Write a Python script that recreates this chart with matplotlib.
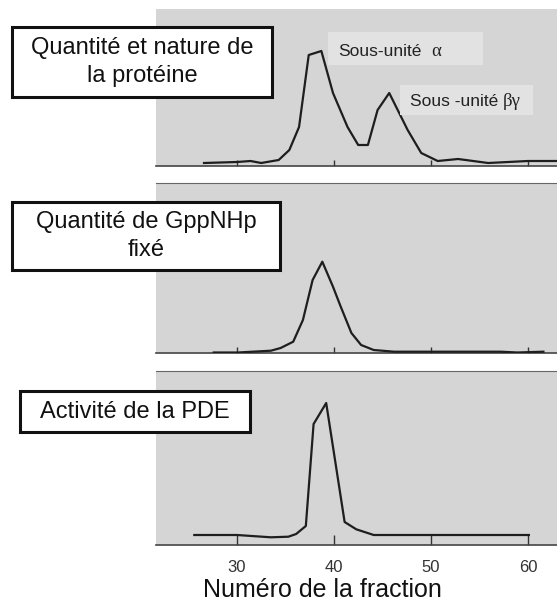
import matplotlib.pyplot as plt
from matplotlib.patches import Rectangle

plt.rcParams['font.family'] = ['Liberation Sans', 'DejaVu Sans']

# fraction numbers and signal heights (arbitrary units)
frac_prot = [26.6, 30, 31.4, 32.5, 34.3, 35.4, 36.4, 37.4, 38.7, 39.9, 41.4, 42.5,
             43.5, 44.5, 45.7, 47.6, 49, 50.7, 52.8, 55.9, 60, 62.9]
prot = [3, 4, 5, 3, 6, 16, 39, 111, 115, 73, 39, 21,
        21, 56, 73, 36, 13, 5, 7, 3, 5, 5]

frac_gpp = [27.6, 30.1, 33.5, 34.5, 35.8, 36.8, 37.8, 38.8, 39.9, 40.7, 41.8, 42.8,
            44.1, 46.2, 50.3, 57.2, 58.9, 61.6]
gpp = [0.5, 0.5, 2.3, 5, 11.3, 33, 73, 91.3, 66.3, 46.3, 20, 8,
       3, 1.3, 1.3, 1.3, 0.5, 1.3]

frac_pde = [25.6, 30, 33.5, 35.3, 36.1, 37.1, 37.9, 39.2, 41.1, 42.3, 44.1, 50.3, 60.1]
pde = [10, 10, 7.7, 8.3, 11, 19, 121, 142, 23, 15.7, 10, 10, 10]

xticks = [30, 40, 50, 60]
titles = ["Quantité et nature de\nla protéine", "Quantité de GppNHp\nfixé", "Activité de la PDE"]
peak_names = ["Sous-unité", "Sous -unité"]
peak_greek = ["α", "βγ"]

W, H = 557, 608


def fig_rect(x0, y0, x1, y1):
    # pixel box (top-left origin) -> figure fraction [left, bottom, width, height]
    return [x0 / W, 1 - y1 / H, (x1 - x0) / W, (y1 - y0) / H]


fig = plt.figure(figsize=(W / 100, H / 100), dpi=100)

panels = [
    (frac_prot, prot, (9, 166), False, 4),
    (frac_gpp, gpp, (183, 353), True, 4),
    (frac_pde, pde, (371, 545), True, 7),
]
axes = []
for x, y, (top, bottom), top_line, tick_len in panels:
    ax = fig.add_axes(fig_rect(156, top, 557, bottom))
    ax.set_facecolor("#d5d5d5")
    ax.plot(x, y, color="#1e1e1e", linewidth=1.6, zorder=3)
    ax.set_xlim(21.65, 63.0)
    ax.set_ylim(0, bottom - top)
    for side in ["left", "right"]:
        ax.spines[side].set_visible(False)
    ax.spines["top"].set_visible(top_line)
    ax.spines["top"].set_color("#666666")
    ax.spines["bottom"].set_color("#444444")
    ax.spines["bottom"].set_linewidth(1.2)
    ax.set_yticks([])
    ax.set_xticks(xticks)
    ax.tick_params(axis="x", direction="in", length=tick_len, width=1.0,
                   color="#333333", labelbottom=False)
    axes.append(ax)

axes[2].tick_params(axis="x", labelbottom=True, pad=11, labelsize=12, labelcolor="#333333")

# labels on the two peaks of the first panel (lighter patches behind them)
label_boxes = [(328, 32, 483, 65), (400, 85, 533, 115)]
name_x = [338, 410]
greek_x = [431, 503]
text_y = [51, 101]
for (x0, y0, x1, y1), name, greek, nx, gx, ty in zip(label_boxes, peak_names, peak_greek,
                                                     name_x, greek_x, text_y):
    r = fig_rect(x0, y0, x1, y1)
    fig.patches.append(Rectangle((r[0], r[1]), r[2], r[3], transform=fig.transFigure,
                                 facecolor="#e2e2e2", edgecolor="none", zorder=1.5))
    yc = 1 - ty / H
    fig.text(nx / W, yc, name, ha="left", va="center", fontsize=12.5, color="#222222", zorder=2)
    fig.text(gx / W, yc, greek, ha="left", va="center", fontsize=13.5, color="#222222",
             family=["Liberation Serif", "DejaVu Serif"], zorder=2)

# framed titles on the left
boxes = [(12, 27, 272, 97), (12, 202, 280, 270), (20, 391, 250, 432)]
for (x0, y0, x1, y1), title in zip(boxes, titles):
    r = fig_rect(x0, y0, x1, y1)
    fig.patches.append(Rectangle((r[0], r[1]), r[2], r[3], transform=fig.transFigure,
                                 facecolor="white", edgecolor="#111111", linewidth=2.2,
                                 zorder=5))
    fig.text(r[0] + r[2] / 2, r[1] + r[3] / 2, title, ha="center", va="center",
             fontsize=17, color="#111111", zorder=6, linespacing=1.4)

fig.text(322 / W, 1 - 590 / H, "Numéro de la fraction", ha="center", va="center",
         fontsize=18, color="#111111")

plt.savefig("out.png", dpi=100)
